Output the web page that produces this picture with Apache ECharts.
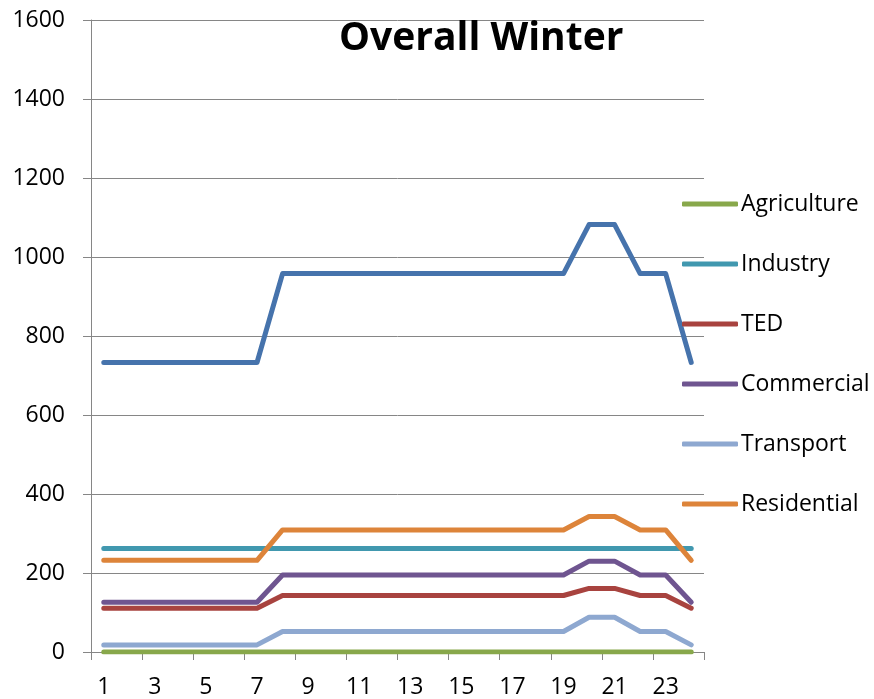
<!DOCTYPE html>
<html>
<head>
<meta charset="utf-8">
<script src="https://cdn.jsdelivr.net/npm/echarts@6/dist/echarts.min.js"></script>
<style>
  html, body { margin: 0; padding: 0; background: #fff; }
  #main { width: 874px; height: 699px; }
</style>
</head>
<body>
<div id="main"></div>
<script>
var hours = ['1','2','3','4','5','6','7','8','9','10','11','12',
             '13','14','15','16','17','18','19','20','21','22','23','24'];

// hourly load, winter
var total       = [733,733,733,733,733,733,733,958,958,958,958,958,958,958,958,958,958,958,958,1082,1082,958,958,733];
var agriculture = [0,0,0,0,0,0,0,0,0,0,0,0,0,0,0,0,0,0,0,0,0,0,0,0];
var industry    = [262,262,262,262,262,262,262,262,262,262,262,262,262,262,262,262,262,262,262,262,262,262,262,262];
var ted         = [111,111,111,111,111,111,111,143,143,143,143,143,143,143,143,143,143,143,143,161,161,143,143,111];
var commercial  = [126,126,126,126,126,126,126,195,195,195,195,195,195,195,195,195,195,195,195,230,230,195,195,126];
var transport   = [18,18,18,18,18,18,18,52,52,52,52,52,52,52,52,52,52,52,52,88,88,52,52,18];
var residential = [232,232,232,232,232,232,232,309,309,309,309,309,309,309,309,309,309,309,309,343,343,309,309,232];

var legendNames = ['Agriculture','Industry','TED','Commercial','Transport','Residential'];

var myChart = echarts.init(document.getElementById('main'));

function line(name, data, color) {
    return {
        name: name,
        type: 'line',
        data: data,
        symbol: 'none',
        color: color,
        animation: false,
        lineStyle: { width: 5, color: color, cap: 'round', join: 'round' }
    };
}

var option = {
    backgroundColor: '#fff',
    textStyle: { fontFamily: '"Open Sans", "Noto Sans", sans-serif' },
    title: {
        text: 'Overall Winter',
        left: 334,
        top: 14,
        textStyle: { fontSize: 39, fontWeight: 'bold', color: '#000', fontFamily: '"Open Sans", "Noto Sans", sans-serif' }
    },
    legend: {
        data: legendNames,
        orient: 'vertical',
        left: 677,
        top: 186,
        itemWidth: 56,
        itemHeight: 5,
        itemGap: 34,
        icon: 'roundRect',
        textStyle: { fontSize: 23, color: '#000', lineHeight: 26, padding: [0, 0, 0, -2] }
    },
    grid: { left: 91, right: 170, top: 20, bottom: 46 },
    xAxis: {
        type: 'category',
        data: hours,
        boundaryGap: true,
        axisLine: { lineStyle: { color: '#868686', width: 1 } },
        axisTick: { show: true, length: 8, lineStyle: { color: '#868686' } },
        axisLabel: { interval: 1, fontSize: 23, color: '#000', margin: 24 },
        splitLine: { show: false }
    },
    yAxis: {
        type: 'value',
        min: 0,
        max: 1600,
        interval: 200,
        axisLine: { show: true, lineStyle: { color: '#868686', width: 1 } },
        axisTick: { show: true, length: 8, lineStyle: { color: '#868686' } },
        axisLabel: { fontSize: 23, color: '#000', margin: 26, formatter: function (v) { return String(v); } },
        splitLine: { show: true, lineStyle: { color: '#868686', width: 1 } }
    },
    series: [
        line('Total', total, '#4673AC'),
        line('Agriculture', agriculture, '#88A84B'),
        line('Industry', industry, '#4198AF'),
        line('TED', ted, '#A8433F'),
        line('Commercial', commercial, '#6F5590'),
        line('Transport', transport, '#8EA8D0'),
        line('Residential', residential, '#DD843A')
    ]
};

myChart.setOption(option);
</script>
</body>
</html>
